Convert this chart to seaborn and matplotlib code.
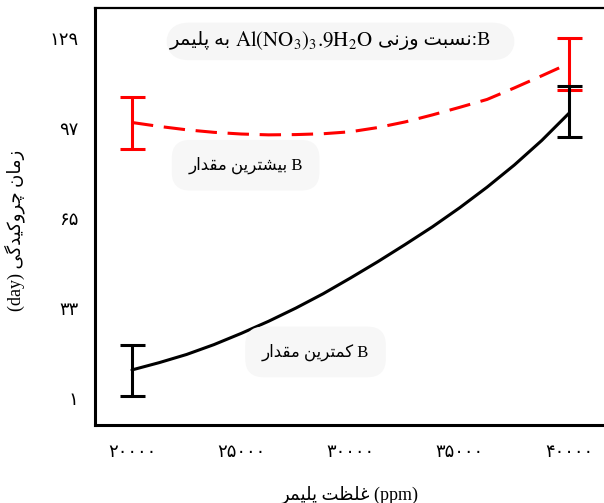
import pandas as pd
import seaborn as sns
import matplotlib.pyplot as plt
from matplotlib.patches import FancyBboxPatch
from matplotlib.ticker import FixedLocator, FuncFormatter

# values
ppm = [20000, 21250, 22500, 23750, 25000, 26250, 27500, 28750, 30000,
       31250, 32500, 33750, 35000, 36250, 37500, 38750, 40000]
max_b = [99.0, 97.6, 96.4, 95.5, 94.9, 94.6, 94.7, 95.0, 95.7,
         97.2, 99.2, 101.7, 104.4, 107.2, 111.3, 115.6, 120.0]
min_b = [11.0, 13.6, 16.5, 20.0, 24.0, 28.3, 33.0, 38.1, 43.7,
         49.5, 55.6, 61.9, 68.7, 76.0, 83.9, 92.6, 102.3]

err_ppm = [20000, 40000]
max_low = [89.5, 110.5]
max_high = [108.1, 129.0]
min_low = [1.7, 93.9]
min_high = [19.9, 112.0]

x_ticks = [20000, 25000, 30000, 35000, 40000]
y_ticks = [1, 33, 65, 97, 129]

# --- tiny persian shaper (matplotlib has no bidi / shaping) ---
FORMS = {
    "ا": ("\uFE8D", "\uFE8E", None, None),
    "ب": ("\uFE8F", "\uFE90", "\uFE91", "\uFE92"),
    "ت": ("\uFE95", "\uFE96", "\uFE97", "\uFE98"),
    "د": ("\uFEA9", "\uFEAA", None, None),
    "ر": ("\uFEAD", "\uFEAE", None, None),
    "ز": ("\uFEAF", "\uFEB0", None, None),
    "س": ("\uFEB1", "\uFEB2", "\uFEB3", "\uFEB4"),
    "ش": ("\uFEB5", "\uFEB6", "\uFEB7", "\uFEB8"),
    "ظ": ("\uFEC5", "\uFEC6", "\uFEC7", "\uFEC8"),
    "غ": ("\uFECD", "\uFECE", "\uFECF", "\uFED0"),
    "ق": ("\uFED5", "\uFED6", "\uFED7", "\uFED8"),
    "ل": ("\uFEDD", "\uFEDE", "\uFEDF", "\uFEE0"),
    "م": ("\uFEE1", "\uFEE2", "\uFEE3", "\uFEE4"),
    "ن": ("\uFEE5", "\uFEE6", "\uFEE7", "\uFEE8"),
    "ه": ("\uFEE9", "\uFEEA", "\uFEEB", "\uFEEC"),
    "و": ("\uFEED", "\uFEEE", None, None),
    "پ": ("\uFB56", "\uFB57", "\uFB58", "\uFB59"),
    "چ": ("\uFB7A", "\uFB7B", "\uFB7C", "\uFB7D"),
    "ک": ("\uFB8E", "\uFB8F", "\uFB90", "\uFB91"),
    "گ": ("\uFB92", "\uFB93", "\uFB94", "\uFB95"),
    "ی": ("\uFBFC", "\uFBFD", "\uFBFE", "\uFBFF"),
}


def shape_word(w):
    out = []
    for i, c in enumerate(w):
        if c not in FORMS:
            out.append(c)
            continue
        prev = w[i - 1] if i > 0 else None
        nxt = w[i + 1] if i + 1 < len(w) else None
        j_prev = prev in FORMS and FORMS[prev][2] is not None
        j_next = nxt in FORMS and FORMS[c][2] is not None
        iso, fin, ini, med = FORMS[c]
        if j_prev and j_next:
            out.append(med)
        elif j_prev:
            out.append(fin)
        elif j_next:
            out.append(ini)
        else:
            out.append(iso)
    return "".join(reversed(out))


def fa(text):
    return " ".join(shape_word(w) for w in reversed(text.split()))


def fa_digits(v, pos=None):
    return str(int(v)).translate(str.maketrans("0123456789", "۰۱۲۳۴۵۶۷۸۹"))


sns.set_style("white", {"axes.edgecolor": "black", "xtick.color": "black",
                        "ytick.color": "black", "text.color": "black",
                        "axes.labelcolor": "black"})
plt.rcParams["font.family"] = ["Liberation Serif", "DejaVu Sans"]
plt.rcParams["mathtext.fontset"] = "stix"

df = pd.DataFrame({"ppm": ppm, "max_b": max_b, "min_b": min_b})

fig = plt.figure(figsize=(6.04, 5.03), dpi=100)
ax = fig.add_axes([0.157, 0.155, 0.843, 0.829])

sns.lineplot(data=df, x="ppm", y="max_b", ax=ax, color="#ff0000", lw=2.2,
             linestyle=(0, (7, 3.5)))
sns.lineplot(data=df, x="ppm", y="min_b", ax=ax, color="black", lw=2.2)

centers_max = [(lo + hi) / 2 for lo, hi in zip(max_low, max_high)]
centers_min = [(lo + hi) / 2 for lo, hi in zip(min_low, min_high)]
ax.errorbar(err_ppm, centers_max,
            yerr=[[c - lo for c, lo in zip(centers_max, max_low)],
                  [hi - c for c, hi in zip(centers_max, max_high)]],
            fmt="none", ecolor="#ff0000", elinewidth=2.2, capsize=9, capthick=2.2)
ax.errorbar(err_ppm, centers_min,
            yerr=[[c - lo for c, lo in zip(centers_min, min_low)],
                  [hi - c for c, hi in zip(centers_min, min_high)]],
            fmt="none", ecolor="black", elinewidth=2.2, capsize=9, capthick=2.2)

ax.set_xlim(18300, 41600)
ax.set_ylim(-8.6, 139.7)
ax.xaxis.set_major_locator(FixedLocator(x_ticks))
ax.yaxis.set_major_locator(FixedLocator(y_ticks))
ax.xaxis.set_major_formatter(FuncFormatter(fa_digits))
ax.yaxis.set_major_formatter(FuncFormatter(fa_digits))
ax.tick_params(axis="x", direction="in", length=5, width=1, pad=14, labelsize=13)
ax.tick_params(axis="y", direction="in", length=8, width=1, pad=12, labelsize=13)

for side in ["left", "bottom"]:
    ax.spines[side].set_linewidth(2.2)
ax.spines["top"].set_linewidth(1.6)
ax.spines["right"].set_visible(False)

ax.set_xlabel(fa("غلظت پلیمر") + " (ppm)", fontsize=13)
ax.set_ylabel("(day) " + fa("زمان چروکیدگی"), fontsize=13)
ax.xaxis.set_label_coords(0.501, -0.145)
ax.yaxis.set_label_coords(-0.1375, 0.468)

# title pill
ax.add_patch(FancyBboxPatch((0.14, 0.875), 0.685, 0.09,
                            boxstyle="round,pad=0,rounding_size=0.045",
                            mutation_aspect=509 / 417, transform=ax.transAxes,
                            fc="#f6f6f6", ec="none", zorder=0))
t1 = ax.text(36400, 128.0, fa("نسبت وزنی") + ":B", ha="right", va="center",
             fontsize=14)
t2 = ax.annotate(r"$\mathrm{Al(NO_3)_3.9H_2O}$", xy=(0, 0.5), xycoords=t1,
                 xytext=(-4, 0), textcoords="offset points",
                 ha="right", va="center", fontsize=15)
ax.annotate(fa("به پلیمر"), xy=(0, 0.5), xycoords=t2,
            xytext=(-3, 1), textcoords="offset points",
            ha="right", va="center", fontsize=14)

box = dict(boxstyle="round,pad=1.0,rounding_size=1.1", fc="#f7f7f7", ec="none")
ax.text(25200, 83.8, fa("بیشترین مقدار") + " B", ha="center", va="center",
        fontsize=12, bbox=box)
ax.text(28400, 17.4, fa("کمترین مقدار") + " B", ha="center", va="center",
        fontsize=12, bbox=box)

fig.savefig("out.png", dpi=100)
